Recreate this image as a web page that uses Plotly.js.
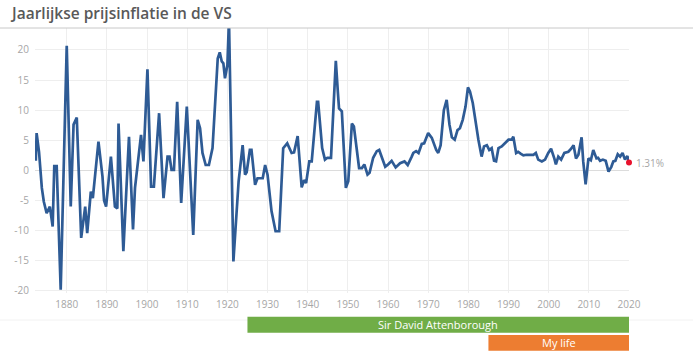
<!DOCTYPE html>
<html>
<head>
<meta charset="utf-8">
<script src="https://cdn.plot.ly/plotly-3.0.1.min.js"></script>
<style>html,body{margin:0;padding:0;background:#fff;}#chart{width:693px;height:358px;}</style>
</head>
<body>
<div id="chart"></div>
<script>
// Jaarlijkse prijsinflatie in de VS (% per jaar)
const years = [
1872.3,1872.5,1873.1,1873.8,1874.3,1875.0,1875.8,1876.5,1876.9,1877.5,1878.5,1880.0,1881.0,1881.7,1882.5,
1883.6,1884.6,1885.1,1886.0,1886.5,1887.9,1888.9,1889.3,1889.8,1891.0,1892.0,1892.6,1892.9,1894.1,1895.5,
1896.5,1897.0,1898.5,1899.1,1900.1,1901.0,1901.7,1903.0,1904.1,1905.1,1905.6,1906.1,1906.7,1907.5,1908.5,
1909.9,1911.5,1912.6,1913.2,1913.8,1914.6,1915.4,1916.3,1917.6,1918.1,1918.6,1919.0,1919.4,1920.0,1920.4,
1921.5,1922.8,1923.8,1924.4,1924.8,1925.6,1926.0,1926.9,1927.5,1928.8,1929.4,1930.0,1931.0,1932.0,1932.9,
1933.9,1934.9,1936.0,1936.6,1937.5,1938.5,1939.1,1939.6,1940.4,1941.0,1942.3,1942.6,1943.3,1943.6,1944.3,
1944.9,1945.8,1947.0,1947.5,1947.8,1948.5,1948.9,1949.5,1950.1,1951.0,1951.5,1952.2,1952.8,1953.5,1954.1,
1954.9,1955.4,1956.3,1957.2,1957.8,1959.3,1960.0,1960.9,1961.9,1963.0,1964.1,1964.9,1965.9,1966.3,1967.0,
1967.6,1968.4,1969.0,1970.0,1970.9,1972.0,1972.5,1973.1,1973.9,1974.6,1975.3,1975.9,1976.6,1977.3,1977.9,
1978.6,1979.3,1979.9,1980.4,1981.1,1981.8,1982.5,1983.3,1983.9,1984.6,1985.2,1985.8,1986.4,1986.9,1987.5,
1988.3,1989.1,1990.0,1990.8,1991.2,1991.9,1992.4,1993.0,1993.7,1994.5,1995.4,1996.2,1996.8,1997.4,1998.3,
1999.1,1999.9,2000.6,2001.4,2001.8,2002.4,2003.1,2003.9,2004.9,2005.6,2006.2,2006.8,2007.4,2008.2,2008.6,
2009.2,2009.9,2010.5,2011.1,2011.9,2012.3,2012.8,2013.5,2014.2,2014.9,2015.6,2016.1,2016.6,2017.2,2017.8,
2018.4,2019.0,2019.6,2020.0
];
const inflation = [
1.6,6.2,3.1,-2.9,-5.2,-7.1,-6.0,-9.3,0.7,0.7,-19.8,20.7,-6.0,7.6,8.8,
-11.2,-6.0,-10.4,-3.5,-4.6,4.8,-1.0,-5.0,-6.0,2.3,-6.0,-6.3,7.8,-13.4,5.6,
-9.8,-2.9,5.9,1.5,16.8,-2.7,-2.7,9.5,-4.6,2.3,2.3,0.1,0.1,11.4,-5.4,
10.6,-10.7,8.4,7.0,2.9,0.9,0.9,3.7,18.6,19.6,18.1,17.8,15.3,17.5,25.0,
-15.1,-1.8,4.2,-0.7,-0.3,3.4,3.4,-2.4,-1.3,-1.3,0.9,-0.7,-6.8,-10.1,-10.1,
3.7,4.5,2.9,3.0,5.7,-2.8,-1.6,-2.1,1.5,1.5,11.4,11.4,6.5,3.7,1.8,
2.1,2.1,18.2,13.1,10.3,9.8,4.8,-2.9,-1.8,7.8,7.3,3.1,0.4,0.4,1.0,
-0.7,-0.4,2.1,3.2,3.4,0.6,1.0,1.6,0.5,1.2,1.5,0.9,2.3,2.9,3.2,
2.9,4.4,4.5,6.2,5.4,3.4,2.9,4.2,10.0,11.7,7.6,5.5,5.1,6.7,7.0,
8.4,10.6,13.8,13.1,11.2,8.1,5.1,2.3,4.0,4.2,3.4,3.7,1.6,1.5,3.7,
4.0,4.5,5.1,5.1,5.6,2.9,3.1,2.8,2.5,2.6,2.6,2.6,2.9,1.8,1.5,
1.8,2.9,3.6,2.0,1.0,2.3,1.8,2.9,3.1,3.6,4.2,2.0,2.6,5.5,1.5,
-2.3,2.0,1.7,3.4,2.0,2.1,1.6,1.8,1.6,-0.2,0.6,1.5,1.6,2.7,2.3,
2.9,1.8,2.4,1.31
];
const lastLabel = "1.31%";
const xTicks = [1880,1890,1900,1910,1920,1930,1940,1950,1960,1970,1980,1990,2000,2010,2020];
const yTicks = [-20,-15,-10,-5,0,5,10,15,20];

// Life spans shown under the axis
const spanNames = ["Sir David Attenborough", "My life"];
const spanStart = [1925, 1985];
const spanEnd = [2020, 2020];
const spanColors = ["#70AD47", "#ED7D31"];

const spanRows = [[-0.0894, -0.1498], [-0.1585, -0.2177]];

const shapes = [
  {type:'line', xref:'paper', yref:'paper', x0:-0.06, x1:1.11, y0:1.0, y1:1.0,
   line:{color:'#c8c8c8', width:1}},
  {type:'line', xref:'paper', yref:'paper', x0:-0.06, x1:1.11, y0:-0.102, y1:-0.102,
   line:{color:'#f2f2f2', width:1}, layer:'below'}
];
const annotations = [
  {xref:'x', yref:'y', x: years[years.length-1], y: inflation[inflation.length-1],
   text: lastLabel, showarrow:false, xanchor:'left', yanchor:'middle', xshift:5,
   font:{family:'Open Sans, sans-serif', size:10, color:'#a6a6a6'}}
];
spanNames.forEach((n,i)=>{
  shapes.push({type:'rect', xref:'x', yref:'paper', x0:spanStart[i], x1:spanEnd[i],
    y0:spanRows[i][1], y1:spanRows[i][0], fillcolor:spanColors[i], line:{width:0}});
  annotations.push({xref:'x', yref:'paper', x:(spanStart[i]+spanEnd[i])/2,
    y:(spanRows[i][0]+spanRows[i][1])/2, text:n, showarrow:false,
    xanchor:'center', yanchor:'middle',
    font:{family:'Open Sans, sans-serif', size:11, color:'#ffffff'}});
});

const traces = [
  {x: years, y: inflation, type:'scatter', mode:'lines',
   line:{color:'#2e5b95', width:2.7}, hoverinfo:'skip'},
  {x: [years[years.length-1]], y: [inflation[inflation.length-1]], type:'scatter', mode:'markers',
   marker:{color:'#e8122d', size:6}, cliponaxis:false, hoverinfo:'skip'}
];

const layout = {
  width:693, height:358,
  margin:{l:35, r:64, t:28, b:65},
  paper_bgcolor:'#ffffff', plot_bgcolor:'#ffffff',
  showlegend:false,
  title:{text:'Jaarlijkse prijsinflatie in de VS', xref:'container', yref:'container',
    x:12/693, xanchor:'left', y:1-14/358, yanchor:'middle',
    font:{family:'Open Sans, sans-serif', size:15.5, color:'#595959', weight:600}},
  xaxis:{range:[1872.1, 2020], tickvals:xTicks, ticktext:xTicks.map(String),
    showgrid:true, gridcolor:'#eeeeee', gridwidth:1, zeroline:false, showline:false,
    ticks:'outside', ticklen:2, tickcolor:'rgba(0,0,0,0)',
    tickfont:{family:'Open Sans, sans-serif', size:10, color:'#a6a6a6'}},
  yaxis:{range:[-20.35, 23.65], tickvals:yTicks, ticktext:yTicks.map(String),
    showgrid:true, gridcolor:'#eeeeee', gridwidth:1, zeroline:true, zerolinecolor:'#dcdcdc', zerolinewidth:1,
    showline:false, ticks:'outside', ticklen:3, tickcolor:'rgba(0,0,0,0)',
    tickfont:{family:'Open Sans, sans-serif', size:10, color:'#a6a6a6'}},
  shapes: shapes,
  annotations: annotations
};

Plotly.newPlot('chart', traces, layout, {displayModeBar:false, staticPlot:true});
</script>
</body>
</html>
